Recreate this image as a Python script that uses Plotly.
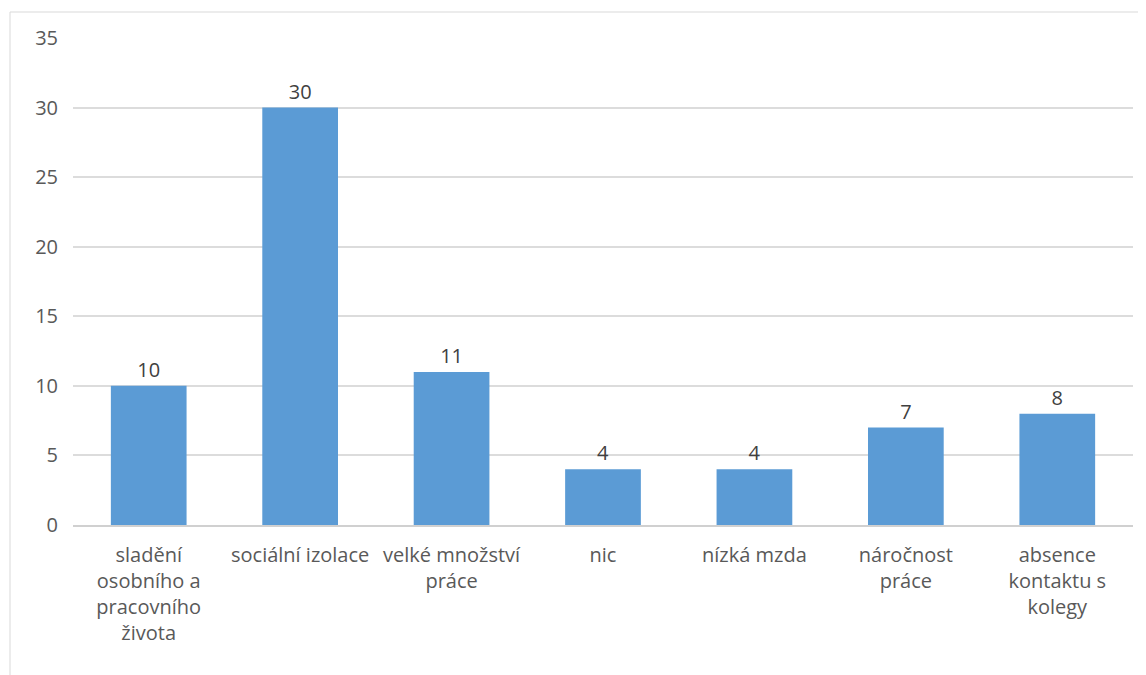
import plotly.graph_objects as go

categories = [
    "sladění<br>osobního a<br>pracovního<br>života",
    "sociální izolace",
    "velké množství<br>práce",
    "nic",
    "nízká mzda",
    "náročnost<br>práce",
    "absence<br>kontaktu s<br>kolegy",
]
values = [10, 30, 11, 4, 4, 7, 8]
y_ticks = [0, 5, 10, 15, 20, 25, 30, 35]

# page body has an 8px margin
W, H = 1138, 667
L, R, T, B = 65, 13, 30, 150
pw, ph = W - L - R, H - T - B
FS = 20

fig = go.Figure(go.Bar(
    x=categories,
    y=values,
    marker=dict(color="#5B9BD5", line=dict(width=0)),
    text=[str(v) for v in values],
    textposition="outside",
    textfont=dict(family="Open Sans", size=FS, color="#404040"),
    cliponaxis=False,
    width=0.5,
))

fig.update_layout(
    width=W, height=H,
    margin=dict(l=L, r=R, t=T, b=B),
    paper_bgcolor="white",
    plot_bgcolor="white",
    showlegend=False,
    font=dict(family="Open Sans", size=FS, color="#595959"),
    xaxis=dict(
        showgrid=False,
        showline=True,
        linecolor="#d0d0d0",
        linewidth=2,
        ticks="",
        tickangle=0,
        ticklabelstandoff=11,
        tickfont=dict(size=FS, color="#595959"),
    ),
    yaxis=dict(
        range=[0, 35],
        tickvals=y_ticks,
        showgrid=True,
        gridcolor="#dcdcdc",
        gridwidth=1.5,
        zeroline=False,
        showline=False,
        ticks="",
        ticklabelstandoff=14,
        tickfont=dict(size=FS, color="#595959"),
    ),
    shapes=[dict(
        type="rect", xref="paper", yref="paper",
        x0=(2 - L) / pw, x1=(W + 10 - L) / pw,
        y0=(ph + T - (H + 10)) / ph, y1=(ph + T - 4) / ph,
        line=dict(color="#d9d9d9", width=1),
        fillcolor="rgba(0,0,0,0)",
        layer="below",
    )],
)

fig.write_html("out.html")
